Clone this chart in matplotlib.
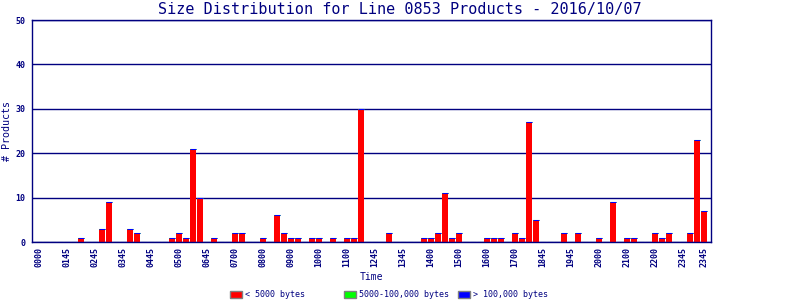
import matplotlib
matplotlib.use("Agg")
from matplotlib import pyplot as plt
from matplotlib.patches import Patch
import numpy as np

NAVY = "#000080"

# 96 fifteen-minute slots over the day
small = [0, 0, 0, 0, 0, 0, 1, 0, 0, 3, 9, 0, 0, 3, 2, 0,
         0, 0, 0, 1, 2, 1, 21, 10, 0, 1, 0, 0, 2, 2, 0, 0,
         1, 0, 6, 2, 1, 1, 0, 1, 1, 0, 1, 0, 1, 1, 30, 0,
         0, 0, 2, 0, 0, 0, 0, 1, 1, 2, 11, 1, 2, 0, 0, 0,
         1, 1, 1, 0, 2, 1, 27, 5, 0, 0, 0, 2, 0, 2, 0, 0,
         1, 0, 9, 0, 1, 1, 0, 0, 2, 1, 2, 0, 0, 2, 23, 7]
medium = [0, 0, 0, 0, 0, 0, 0, 0, 0, 0, 0, 0, 0, 0, 0, 0,
          0, 0, 0, 0, 0, 0, 0, 0, 0, 0, 0, 0, 0, 0, 0, 0,
          0, 0, 0, 0, 0, 0, 0, 0, 0, 0, 0, 0, 0, 0, 0, 0,
          0, 0, 0, 0, 0, 0, 0, 0, 0, 0, 0, 0, 0, 0, 0, 0,
          0, 0, 0, 0, 0, 0, 0, 0, 0, 0, 0, 0, 0, 0, 0, 0,
          0, 0, 0, 0, 0, 0, 0, 0, 0, 0, 0, 0, 0, 0, 0, 0]
large = [0, 0, 0, 0, 0, 0, 0, 0, 0, 0, 0, 0, 0, 0, 0, 0,
         0, 0, 0, 0, 0, 0, 0, 0, 0, 0, 0, 0, 0, 0, 0, 0,
         0, 0, 0, 0, 0, 0, 0, 0, 0, 0, 0, 0, 0, 0, 0, 0,
         0, 0, 0, 0, 0, 0, 0, 0, 0, 0, 0, 0, 0, 0, 0, 0,
         0, 0, 0, 0, 0, 0, 0, 0, 0, 0, 0, 0, 0, 0, 0, 0,
         0, 0, 0, 0, 0, 0, 0, 0, 0, 0, 0, 0, 0, 0, 0, 0]

tick_slots = [0, 4, 8, 12, 16, 20, 24, 28, 32, 36, 40, 44, 48,
              52, 56, 60, 64, 68, 72, 76, 80, 84, 88, 92, 95]
tick_labels = ['0000', '0145', '0245', '0345', '0445', '0500', '0645', '0700',
               '0800', '0900', '1000', '1100', '1245', '1345', '1400', '1500',
               '1600', '1700', '1845', '1945', '2000', '2100', '2200', '2345',
               '2345']

series_names = ['< 5000 bytes', '5000-100,000 bytes', '> 100,000 bytes']
series_colors = ['#ff0000', '#00ff00', '#0000ff']

plt.rcParams['font.family'] = 'DejaVu Sans Mono'

fig = plt.figure(figsize=(8, 3), dpi=100)
ax = fig.add_axes([0.04, 0.1933, 0.849, 0.74])

x = np.arange(len(small))
small = np.array(small)
medium = np.array(medium)
large = np.array(large)
w = 6 / 7

ax.bar(x, small, width=w, color=series_colors[0], linewidth=0, zorder=2)
# zero-height segments still leave a 1px outline, like the original renderer
ax.bar(x, medium, bottom=small, width=w, color=series_colors[1],
       edgecolor=series_colors[1], linewidth=0.75, zorder=2)
ax.bar(x, large, bottom=small + medium, width=w, color=series_colors[2],
       edgecolor=series_colors[2], linewidth=0.75, zorder=2)

ax.set_xlim(-1, 96)
ax.set_ylim(0, 50)
ax.set_yticks([0, 10, 20, 30, 40, 50])
ax.yaxis.grid(True, color=NAVY, linewidth=1.0)
ax.set_axisbelow(True)

ax.set_xticks(tick_slots)
ax.set_xticklabels(tick_labels, rotation=90)
ax.tick_params(axis='x', length=0, pad=3.5, labelsize=6, labelcolor=NAVY)
ax.tick_params(axis='y', length=0, pad=4.5, labelsize=6, labelcolor=NAVY)
for lab in ax.get_xticklabels() + ax.get_yticklabels():
    lab.set_fontweight('bold')

for s in ax.spines.values():
    s.set_color(NAVY)
    s.set_linewidth(1.0)
    s.set_zorder(3)

ax.set_xlabel('Time', color=NAVY, fontsize=7)
ax.xaxis.set_label_coords(0.5, -0.135)
ax.set_ylabel('# Products', color=NAVY, fontsize=7.2)
ax.yaxis.set_label_coords(-0.03, 0.5)

fig.text(0.5, 0.968, 'Size Distribution for Line 0853 Products - 2016/10/07',
         ha='center', va='center', color=NAVY, fontsize=10.9)

leg_x = [0.287, 0.43, 0.572]
for name, col, lx in zip(series_names, series_colors, leg_x):
    h = Patch(facecolor=col, edgecolor='#808080', linewidth=1)
    fig.legend(handles=[h], labels=[name], loc='center left',
               bbox_to_anchor=(lx, 0.017), frameon=False, fontsize=6,
               handlelength=1.45, handleheight=0.95, handletextpad=0.4,
               borderpad=0, borderaxespad=0, labelcolor=NAVY)

fig.savefig('out.png', dpi=100, facecolor='white')
